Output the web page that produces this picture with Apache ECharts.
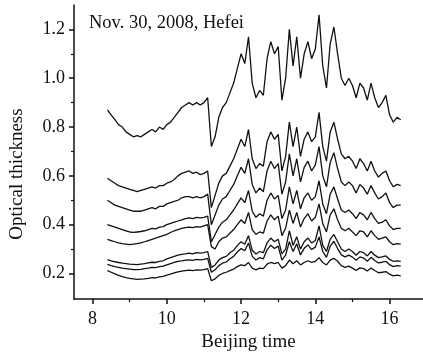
<!DOCTYPE html>
<html>
<head>
<meta charset="utf-8">
<script src="https://cdn.jsdelivr.net/npm/echarts@6/dist/echarts.min.js"></script>
<style>html,body{margin:0;padding:0;background:#fff}#c{width:423px;height:357px}</style>
</head>
<body>
<div id="c"></div>
<script>
const times = [8.4,8.5,8.6,8.7,8.8,8.9,9.0,9.1,9.2,9.3,9.4,9.5,9.6,9.7,9.8,9.9,10.0,10.1,10.2,10.3,10.4,10.5,10.6,10.7,10.8,10.9,11.0,11.1,11.2,11.3,11.4,11.5,11.6,11.7,11.8,11.9,12.0,12.1,12.2,12.3,12.4,12.5,12.6,12.7,12.8,12.9,13.0,13.1,13.2,13.3,13.4,13.5,13.6,13.7,13.8,13.9,14.0,14.1,14.2,14.3,14.4,14.5,14.6,14.7,14.8,14.9,15.0,15.1,15.2,15.3,15.4,15.5,15.6,15.7,15.8,15.9,16.0,16.1,16.2,16.3];

const s1 = [0.87,0.85,0.83,0.81,0.80,0.78,0.77,0.76,0.765,0.76,0.77,0.78,0.79,0.78,0.80,0.79,0.81,0.82,0.84,0.86,0.88,0.89,0.90,0.89,0.90,0.89,0.90,0.92,0.72,0.76,0.84,0.88,0.90,0.94,0.98,1.04,1.10,1.06,1.17,0.98,0.92,0.95,0.93,1.08,1.15,1.10,1.13,0.91,1.00,1.20,1.05,1.17,1.00,1.10,1.15,1.08,1.12,1.26,1.05,0.96,1.14,1.21,1.10,1.00,0.97,1.00,0.97,0.92,0.98,0.96,0.91,0.98,0.92,0.88,0.90,0.93,0.85,0.82,0.84,0.83];

const s2 = [0.59,0.58,0.57,0.56,0.555,0.55,0.545,0.54,0.535,0.54,0.545,0.55,0.555,0.55,0.56,0.56,0.57,0.575,0.585,0.60,0.61,0.615,0.62,0.61,0.615,0.605,0.61,0.62,0.47,0.52,0.57,0.60,0.61,0.64,0.67,0.71,0.75,0.72,0.79,0.67,0.63,0.65,0.64,0.74,0.78,0.75,0.77,0.62,0.68,0.82,0.72,0.80,0.68,0.75,0.78,0.74,0.76,0.86,0.72,0.66,0.78,0.82,0.75,0.69,0.67,0.68,0.66,0.63,0.67,0.65,0.62,0.66,0.62,0.595,0.61,0.62,0.58,0.555,0.565,0.56];

const s3 = [0.50,0.49,0.48,0.475,0.47,0.465,0.46,0.455,0.455,0.455,0.46,0.465,0.47,0.465,0.475,0.475,0.485,0.49,0.495,0.50,0.51,0.515,0.515,0.51,0.515,0.51,0.515,0.525,0.40,0.44,0.48,0.505,0.515,0.54,0.565,0.60,0.635,0.61,0.67,0.565,0.53,0.55,0.535,0.62,0.66,0.63,0.65,0.525,0.575,0.69,0.60,0.67,0.575,0.635,0.66,0.62,0.645,0.72,0.60,0.555,0.655,0.695,0.63,0.575,0.56,0.575,0.56,0.53,0.565,0.55,0.525,0.56,0.53,0.505,0.515,0.53,0.49,0.47,0.48,0.48];

const s4 = [0.40,0.395,0.39,0.385,0.38,0.375,0.37,0.368,0.37,0.372,0.375,0.38,0.385,0.383,0.39,0.392,0.40,0.405,0.41,0.415,0.42,0.425,0.428,0.425,0.43,0.428,0.43,0.435,0.33,0.36,0.39,0.41,0.42,0.44,0.46,0.485,0.51,0.49,0.54,0.455,0.43,0.445,0.435,0.50,0.53,0.505,0.52,0.425,0.46,0.555,0.485,0.54,0.465,0.51,0.53,0.50,0.515,0.58,0.485,0.445,0.525,0.555,0.505,0.46,0.45,0.46,0.445,0.425,0.45,0.44,0.42,0.45,0.425,0.405,0.41,0.42,0.395,0.38,0.385,0.385];

const s5 = [0.34,0.335,0.33,0.325,0.322,0.32,0.318,0.32,0.322,0.325,0.33,0.335,0.34,0.345,0.35,0.355,0.36,0.368,0.375,0.38,0.385,0.388,0.39,0.388,0.392,0.39,0.395,0.40,0.31,0.30,0.33,0.345,0.35,0.365,0.38,0.40,0.42,0.405,0.45,0.38,0.36,0.37,0.365,0.415,0.44,0.42,0.435,0.355,0.385,0.46,0.405,0.45,0.39,0.425,0.445,0.415,0.43,0.485,0.405,0.37,0.44,0.465,0.42,0.385,0.375,0.385,0.37,0.355,0.375,0.37,0.35,0.375,0.355,0.34,0.345,0.35,0.33,0.318,0.322,0.32];

const s6 = [0.257,0.252,0.248,0.245,0.242,0.24,0.238,0.237,0.236,0.238,0.24,0.243,0.246,0.245,0.25,0.252,0.26,0.265,0.27,0.275,0.278,0.28,0.283,0.28,0.285,0.283,0.285,0.29,0.225,0.235,0.255,0.265,0.27,0.285,0.295,0.315,0.33,0.32,0.355,0.295,0.28,0.29,0.285,0.325,0.345,0.33,0.34,0.28,0.30,0.375,0.315,0.35,0.30,0.33,0.345,0.325,0.335,0.395,0.315,0.29,0.34,0.36,0.33,0.30,0.29,0.30,0.29,0.275,0.29,0.285,0.272,0.29,0.275,0.265,0.268,0.272,0.258,0.25,0.252,0.25];

const s7 = [0.237,0.232,0.228,0.225,0.222,0.22,0.218,0.216,0.216,0.217,0.22,0.222,0.225,0.224,0.228,0.23,0.235,0.24,0.245,0.25,0.252,0.255,0.256,0.254,0.258,0.256,0.258,0.262,0.205,0.215,0.232,0.242,0.247,0.26,0.27,0.288,0.302,0.293,0.325,0.27,0.255,0.265,0.26,0.297,0.316,0.302,0.312,0.255,0.275,0.33,0.29,0.322,0.276,0.303,0.317,0.298,0.308,0.35,0.29,0.266,0.312,0.332,0.302,0.276,0.268,0.275,0.267,0.254,0.268,0.263,0.25,0.266,0.253,0.243,0.246,0.25,0.236,0.228,0.232,0.23];

const s8 = [0.212,0.205,0.198,0.192,0.187,0.183,0.18,0.178,0.176,0.177,0.178,0.18,0.183,0.182,0.186,0.188,0.193,0.197,0.202,0.207,0.21,0.212,0.214,0.212,0.215,0.214,0.216,0.22,0.17,0.178,0.192,0.2,0.205,0.212,0.218,0.228,0.235,0.232,0.245,0.222,0.215,0.222,0.22,0.238,0.245,0.24,0.245,0.222,0.232,0.255,0.24,0.252,0.235,0.245,0.252,0.245,0.25,0.265,0.245,0.235,0.255,0.262,0.25,0.232,0.225,0.23,0.222,0.212,0.223,0.22,0.21,0.222,0.212,0.203,0.205,0.208,0.197,0.19,0.193,0.19];

const xMajorTicks = [8, 10, 12, 14, 16];
const xMinorTicks = [9, 11, 13, 15];
const yMajorTicks = [0.2, 0.4, 0.6, 0.8, 1.0, 1.2];
const yMinorTicks = [0.3, 0.5, 0.7, 0.9, 1.1];

const allSeries = [s1, s2, s3, s4, s5, s6, s7, s8];
const FONT = 'Liberation Serif';
const INK = '#111';

const chart = echarts.init(document.getElementById('c'), null, {renderer: 'canvas'});
chart.setOption({
  animation: false,
  backgroundColor: '#fff',
  title: {
    text: 'Nov. 30, 2008, Hefei',
    left: 84, top: 9,
    textStyle: {fontFamily: FONT, fontSize: 18.5, fontWeight: 'normal', color: INK}
  },
  grid: {left: 72, right: 0, top: 5, bottom: 55, containLabel: false},
  xAxis: [{
    type: 'value', min: 7.5, max: 16.9,
    name: 'Beijing time', nameLocation: 'middle', nameGap: 32,
    nameTextStyle: {fontFamily: FONT, fontSize: 19, color: INK},
    axisLine: {show: true, lineStyle: {color: INK, width: 1.5}},
    axisTick: {show: true, inside: false, length: 5, customValues: xMajorTicks, lineStyle: {color: INK, width: 1.5}},
    axisLabel: {show: true, customValues: xMajorTicks, margin: 11, fontFamily: FONT, fontSize: 18, color: INK},
    splitLine: {show: false}
  }, {
    type: 'value', min: 7.5, max: 16.9, position: 'bottom',
    axisLine: {show: false},
    axisTick: {show: true, inside: false, length: 3, customValues: xMinorTicks, lineStyle: {color: INK, width: 1.2}},
    axisLabel: {show: false},
    splitLine: {show: false}
  }],
  yAxis: [{
    type: 'value', min: 0.095, max: 1.3,
    name: 'Optical thickness', nameLocation: 'middle', nameGap: 47,
    nameTextStyle: {fontFamily: FONT, fontSize: 19, color: INK, padding: [0, 44, 0, 0]},
    axisLine: {show: true, lineStyle: {color: INK, width: 1.5}},
    axisTick: {show: true, inside: false, length: 5, customValues: yMajorTicks, lineStyle: {color: INK, width: 1.5}},
    axisLabel: {show: true, customValues: yMajorTicks, margin: 9, fontFamily: FONT, fontSize: 18, color: INK,
      formatter: v => v.toFixed(1)},
    splitLine: {show: false}
  }, {
    type: 'value', min: 0.095, max: 1.3, position: 'left',
    axisLine: {show: false},
    axisTick: {show: true, inside: false, length: 3, customValues: yMinorTicks, lineStyle: {color: INK, width: 1.2}},
    axisLabel: {show: false},
    splitLine: {show: false}
  }],
  series: allSeries.map((vals, i) => ({
    type: 'line',
    name: 'S' + (i + 1),
    xAxisIndex: 0, yAxisIndex: 0,
    showSymbol: false,
    symbol: 'none',
    lineStyle: {color: INK, width: 1.3},
    data: vals.map((v, k) => [times[k], v])
  }))
});
</script>
</body>
</html>
